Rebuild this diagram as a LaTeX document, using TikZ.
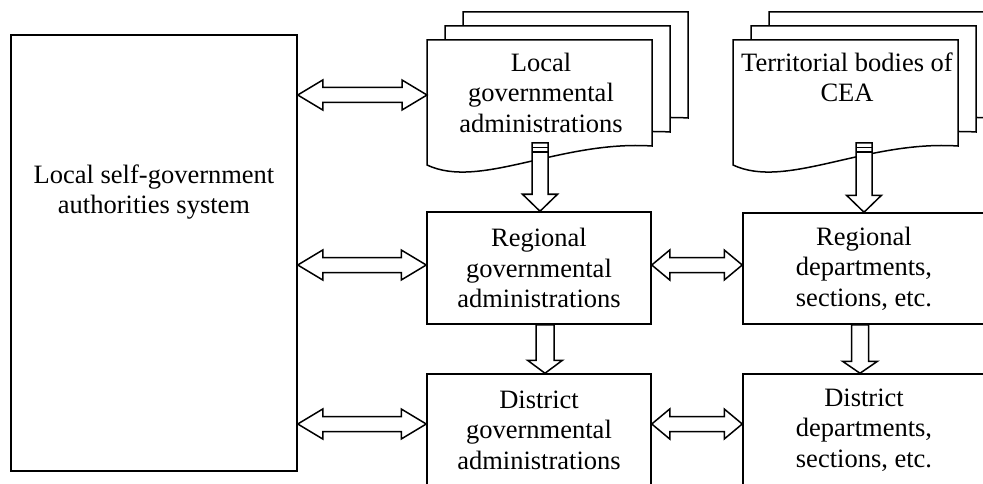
\documentclass[tikz,border=0pt]{standalone}
\usepackage{fontspec}
\setmainfont{Liberation Serif}
\usetikzlibrary{calc}
\tikzset{
  lw/.style={line width=1.5pt},
  box/.style={draw, lw, fill=white, inner sep=0pt},
  txt/.style={align=center, font=\fontsize{26.5}{30.5}\selectfont, inner sep=0pt},
  fat/.style={draw, lw, fill=white, line join=miter},
  page/.style={draw, lw, fill=white, line join=miter}
}
% document shape, #1 = top-left coordinate name, #2 = shift
\newcommand\docpage[2]{%
  \draw[page] ($(#1)+(#2)$) -- ++(225,0) -- ++(0,106)
    .. controls ++(-92,-6) and ($(#1)+(#2)+(53,150)$) .. ($(#1)+(#2)+(0,125)$) -- cycle;}
% horizontal double arrow: #1 left tip, #2 right tip, #3 head length
\newcommand\dblh[3]{%
  \draw[fat] (#1) -- ++(#3,-15) -- ++(0,7.5) -- ($(#2)+(-#3,-7.5)$) -- ++(0,-7.5) -- (#2)
    -- ++(-#3,15) -- ++(0,-7.5) -- ($(#1)+(#3,7.5)$) -- ++(0,7.5) -- cycle;}
% vertical down arrow: #1 top, #2 tip, #3 shaft half width, #4 head length
\newcommand\downarr[4]{%
  \draw[fat] ($(#1)+(-#3,0)$) -- ($(#2)+(-#3,-#4)$) -- ($(#2)+(-17.5,-#4)$) -- (#2)
    -- ($(#2)+(17.5,-#4)$) -- ($(#2)+(#3,-#4)$) -- ($(#1)+(#3,0)$) -- cycle;}
\begin{document}
\begin{tikzpicture}[x=1pt,y=-1pt]
\useasboundingbox (0,0) rectangle (983,484);
\clip (0,0) rectangle (983,484);

% left box
\node[box, minimum width=286, minimum height=436] (lsg) at (154,253) {};
\node[txt] (lsgt) at (154,192) {Local self-government\\authorities system};

% document stacks
\coordinate (lgaNW) at (427,40);
\docpage{lgaNW}{36,-28}
\docpage{lgaNW}{18,-14}
\docpage{lgaNW}{0,0}
\node[txt] (lga) at (541,92.5) {Local\\governmental\\administrations};

\coordinate (tbNW) at (733,40);
\docpage{tbNW}{36,-28}
\docpage{tbNW}{18,-14}
\docpage{tbNW}{0,0}
\node[txt] (tb) at (847,77.5) {Territorial bodies of\\CEA};

% boxes
\node[box, txt, minimum width=224, minimum height=112] (reg) at (539,268) {Regional\\governmental\\administrations};
\node[box, txt, minimum width=224, minimum height=112] (dist) at (539,430) {District\\governmental\\administrations};
\node[box, txt, minimum width=242, minimum height=111] (rreg) at (864,268.5) {Regional\\departments,\\sections, etc.};
\node[box, txt, minimum width=242, minimum height=112] (rdist) at (864,430) {District\\departments,\\sections, etc.};

% levels
\coordinate (l1) at (0,95);
\coordinate (l2) at (0,265);
\coordinate (l3) at (0,424);
\coordinate (a1) at (lsg.east |- l1);
\coordinate (b1) at (lgaNW |- l1);
\coordinate (a2) at (lsg.east |- l2);
\coordinate (b2) at (reg.west |- l2);
\coordinate (a3) at (lsg.east |- l3);
\coordinate (b3) at (dist.west |- l3);
\coordinate (c2) at (reg.east |- l2);
\coordinate (d2) at (rreg.west |- l2);
\coordinate (c3) at (dist.east |- l3);
\coordinate (d3) at (rdist.west |- l3);

\dblh{a1}{b1}{25}
\dblh{a2}{b2}{25}
\dblh{a3}{b3}{25}
\dblh{c2}{d2}{18}
\dblh{c3}{d3}{18}

% vertical arrows
\coordinate (v1t) at (540,143);
\coordinate (v1b) at (v1t |- reg.north);
\downarr{v1t}{v1b}{8}{17}
\draw[lw] ($(v1t)+(-8,4.5)$) -- ($(v1t)+(8,4.5)$);
\draw[lw] ($(v1t)+(-8,9)$) -- ($(v1t)+(8,9)$);

\coordinate (v2t) at (864,143);
\coordinate (v2b) at (v2t |- rreg.north);
\downarr{v2t}{v2b}{8}{17}
\draw[lw] ($(v2t)+(-8,4.5)$) -- ($(v2t)+(8,4.5)$);
\draw[lw] ($(v2t)+(-8,9)$) -- ($(v2t)+(8,9)$);

\coordinate (v3t) at ($(reg.south)+(6,0)$);
\coordinate (v3b) at (v3t |- dist.north);
\downarr{v3t}{v3b}{9}{13}

\coordinate (v4t) at ($(rreg.south)+(-4,0)$);
\coordinate (v4b) at (v4t |- rdist.north);
\downarr{v4t}{v4b}{8.5}{12}
\end{tikzpicture}
\end{document}
